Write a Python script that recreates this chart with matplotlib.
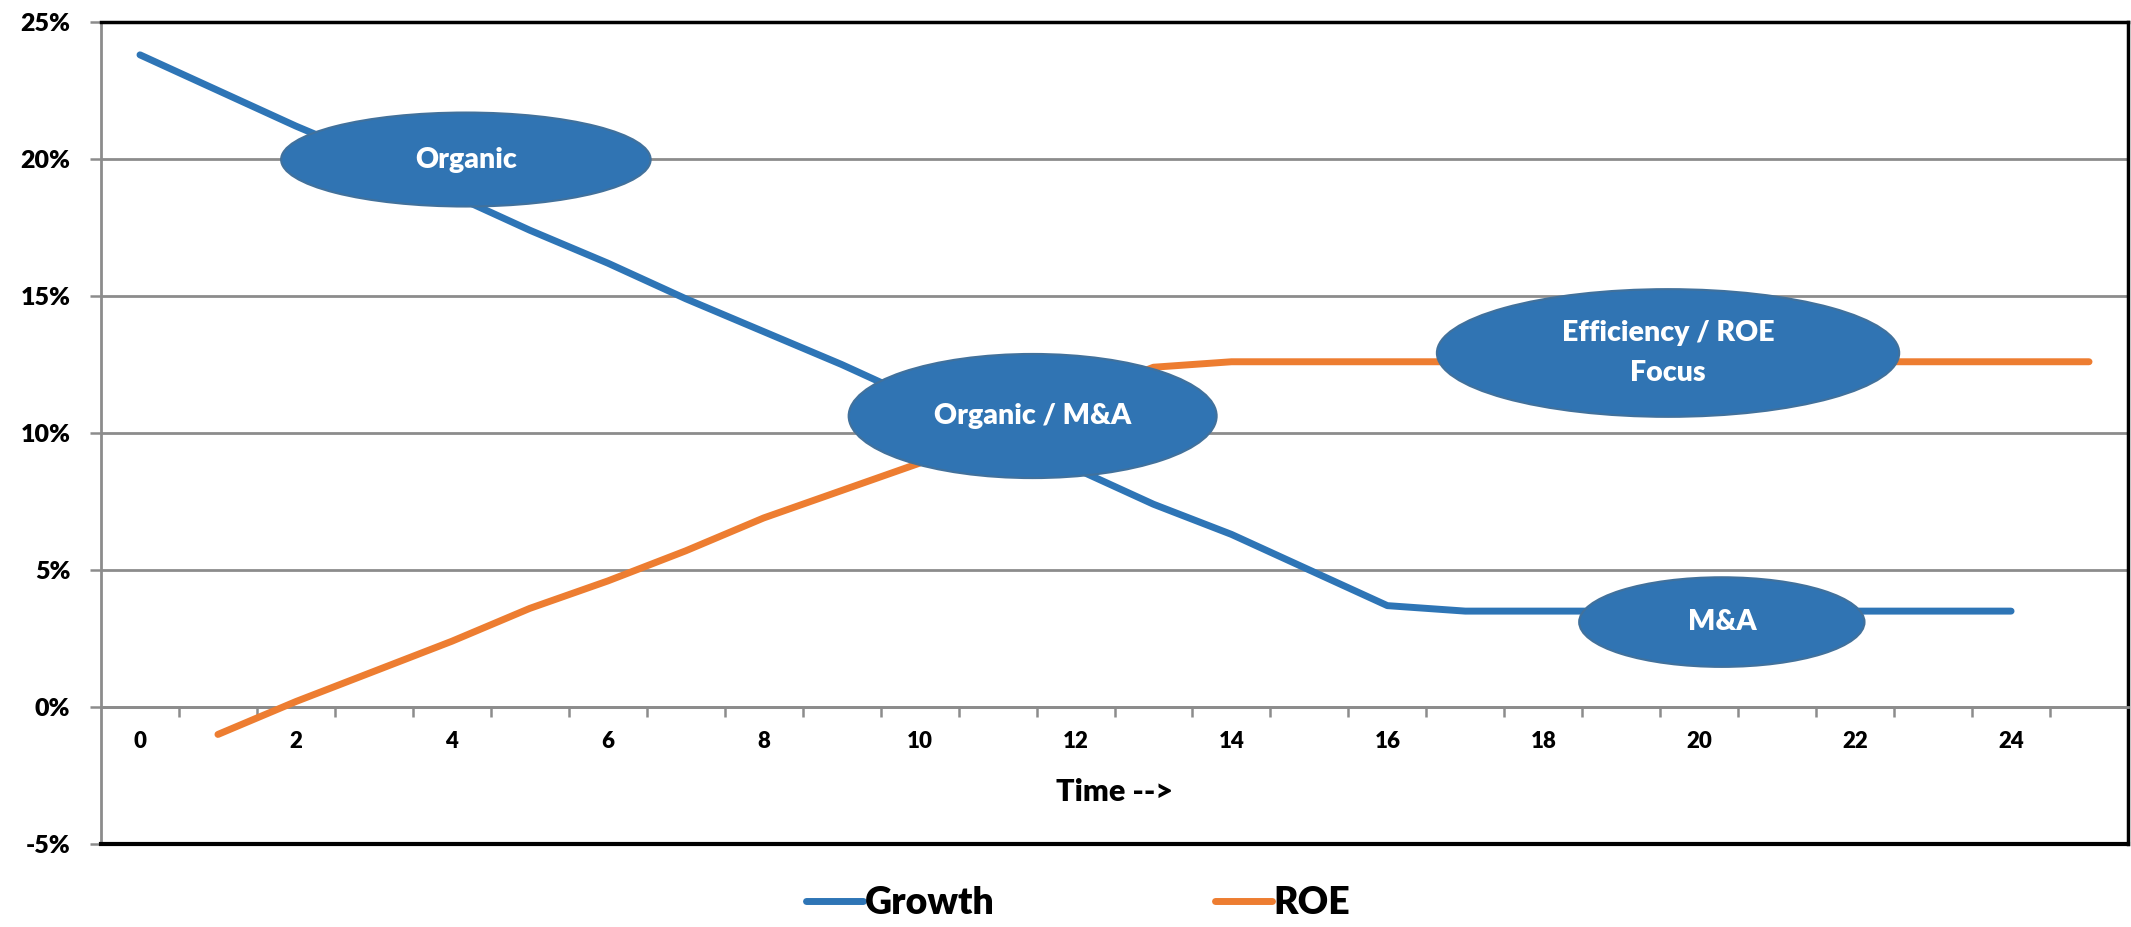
import matplotlib
matplotlib.use("Agg")
import matplotlib.pyplot as plt
from matplotlib.patches import Ellipse
from matplotlib.ticker import PercentFormatter, MultipleLocator, FixedLocator
import numpy as np

plt.rcParams['font.family'] = ['Lato', 'DejaVu Sans']
plt.rcParams['font.weight'] = 'heavy'
plt.rcParams['axes.unicode_minus'] = False

# data
growth_time = list(range(0, 25))
growth = [23.8, 22.5, 21.2, 20.0, 18.7, 17.4, 16.2, 14.9, 13.7, 12.5, 11.2, 10.0,
          8.7, 7.4, 6.3, 5.0, 3.7, 3.5, 3.5, 3.5, 3.5, 3.5, 3.5, 3.5, 3.5]
roe_time = list(range(1, 26))
roe = [-1.0, 0.2, 1.3, 2.4, 3.6, 4.6, 5.7, 6.9, 7.9, 8.9, 10.1, 11.3, 12.4,
       12.6, 12.6, 12.6, 12.6, 12.6, 12.6, 12.6, 12.6, 12.6, 12.6, 12.6, 12.6]
x_labels = list(range(0, 25, 2))
phase_labels = ["Organic", "Organic / M&A", "Efficiency / ROE\nFocus", "M&A"]

blue = "#2E75B6"
orange = "#ED7D31"
grey = "#8C8C8C"
W = 'heavy'

fig = plt.figure(figsize=(21.31, 9.27), dpi=100)
ax = fig.add_axes([0.0474, 0.0895, 0.9512, 0.8868])

ax.plot(growth_time, np.array(growth) / 100, color=blue, lw=5,
        solid_capstyle='round', solid_joinstyle='round', label="Growth", zorder=3)
ax.plot(roe_time, np.array(roe) / 100, color=orange, lw=5,
        solid_capstyle='round', solid_joinstyle='round', label="ROE", zorder=3)

ax.set_xlim(-0.5, 25.5)
ax.set_ylim(-0.05, 0.25)

# y axis
ax.yaxis.set_major_locator(MultipleLocator(0.05))
ax.yaxis.set_major_formatter(PercentFormatter(1.0, decimals=0))
ax.tick_params(axis='y', direction='out', length=8, width=1.8, color=grey,
               labelsize=18, pad=14)
ax.yaxis.grid(True, color=grey, lw=2, zorder=0)
ax.set_axisbelow(True)

# x axis sits at 0%
ax.xaxis.set_major_locator(FixedLocator(x_labels))
ax.xaxis.set_minor_locator(FixedLocator(np.arange(0.5, 25.6, 1)))
ax.tick_params(axis='x', which='major', length=0, labelsize=16, pad=17)
ax.tick_params(axis='x', which='minor', direction='out', length=7, width=1.8, color=grey)
for lab in ax.get_xticklabels() + ax.get_yticklabels():
    lab.set_fontweight(W)

ax.spines['bottom'].set_position(('data', 0))
ax.spines['bottom'].set_color(grey)
ax.spines['bottom'].set_linewidth(2)
ax.spines['left'].set_color(grey)
ax.spines['left'].set_linewidth(2)
ax.spines['top'].set_color('black')
ax.spines['top'].set_linewidth(2.5)
ax.spines['right'].set_color('black')
ax.spines['right'].set_linewidth(2.5)
# plot area border at the bottom
ax.plot([0, 1], [0, 0], transform=ax.transAxes, color='black', lw=3, clip_on=False, zorder=4)

ax.text(12.5, -0.031, "Time -->", ha='center', va='center', fontsize=22, fontweight=W)

# phase bubbles
bubbles = [(4.18, 0.1998, 4.74, 0.0343),
           (11.45, 0.1062, 4.72, 0.0453),
           (19.6, 0.1292, 5.93, 0.0466),
           (20.29, 0.0310, 3.66, 0.0327)]
for (cx, cy, w, h), txt in zip(bubbles, phase_labels):
    ax.add_patch(Ellipse((cx, cy), w, h, facecolor="#3074B3", edgecolor="#41719C",
                         lw=1.5, zorder=5))
    ax.text(cx, cy, txt, ha='center', va='center', color='white', fontsize=20.5,
            fontweight=W, zorder=6, linespacing=1.65)

leg = fig.legend(loc='center', bbox_to_anchor=(0.506, 0.026), ncol=2, frameon=False,
                 fontsize=27, handlelength=1.5, handletextpad=0.05, columnspacing=5.9)
for t in leg.get_texts():
    t.set_fontweight(W)

fig.savefig("out.png", dpi=100)
